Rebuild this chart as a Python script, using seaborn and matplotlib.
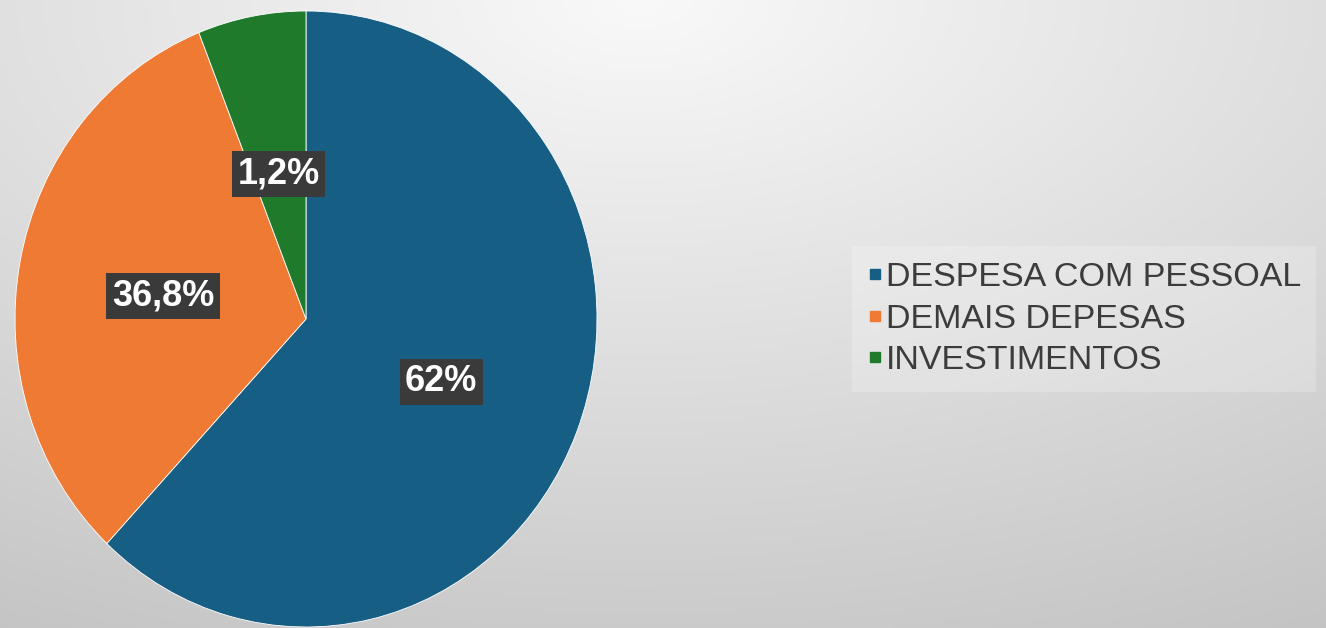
import numpy as np
import matplotlib
matplotlib.use("Agg")
import matplotlib.pyplot as plt
import matplotlib.transforms as mtransforms
from matplotlib.lines import Line2D
import seaborn as sns

# ---- data ----
categories = ["DESPESA COM PESSOAL", "DEMAIS DEPESAS", "INVESTIMENTOS"]
slice_sizes = [62.0, 32.0, 6.0]          # wedge sizes as drawn in the picture
value_labels = ["62%", "36,8%", "1,2%"]  # printed data labels
colors = ["#175e85", "#ee7a33", "#1f7a2c"]

sns.set_theme(style="white")
plt.rcParams["font.family"] = ["Liberation Sans", "DejaVu Sans"]

W, H, DPI = 1326, 628, 100
fig = plt.figure(figsize=(W / DPI, H / DPI), dpi=DPI)

# background gradient
bg = fig.add_axes([0, 0, 1, 1], zorder=-10)
xx, yy = np.meshgrid(np.linspace(0, W, 400), np.linspace(0, H, 200))
u = np.abs(xx - 640) / 676.0
v = yy / 628.0
c = 249 - np.sqrt((26 * u) ** 2 + (46 * v) ** 2)
c = np.clip(c, 0, 255) / 255.0
img = np.dstack([c, c, c])
bg.imshow(img, extent=[0, 1, 0, 1], aspect="auto", origin="upper")
bg.set_axis_off()

# pie axes (elliptical pie as in reference)
left, right, top, bottom = 15, 597, 11, 627
ax = fig.add_axes([left / W, 1 - bottom / H, (right - left) / W, (bottom - top) / H])
ax.patch.set_alpha(0)

label_iter = iter(value_labels)
wedges, _texts, autotexts = ax.pie(
    slice_sizes,
    colors=colors,
    startangle=90,
    counterclock=False,
    autopct=lambda p: next(label_iter),
    pctdistance=0.5,
    wedgeprops=dict(edgecolor="white", linewidth=0.6),
    radius=1.0,
)
ax.set_aspect("auto")
ax.set_xlim(-1, 1)
ax.set_ylim(-1, 1)
ax.set_axis_off()

shift = mtransforms.offset_copy(ax.transData, fig=fig, x=0, y=-6, units="dots")
for t in autotexts:
    t.set_transform(shift)
    t.set_color("white")
    t.set_fontsize(26)
    t.set_fontweight("bold")
    t.set_bbox(dict(boxstyle="square,pad=0.15", facecolor="#3a3a3a", edgecolor="none"))

handles = [Line2D([0], [0], marker="s", linestyle="none", markersize=7,
                  markerfacecolor=col, markeredgecolor=col) for col in colors]
leg = fig.legend(handles, categories, loc="center left",
                 bbox_to_anchor=(862 / W, 1 - 319 / H),
                 frameon=True, fontsize=24.5, handlelength=0.45, handletextpad=0.1,
                 labelspacing=0.32, borderpad=0.15, borderaxespad=0.0)
frame = leg.get_frame()
frame.set_facecolor("white")
frame.set_alpha(0.22)
frame.set_edgecolor("none")
frame.set_boxstyle("square")
for t in leg.get_texts():
    t.set_color("#3c3c3c")

fig.savefig("out.png", dpi=DPI)
